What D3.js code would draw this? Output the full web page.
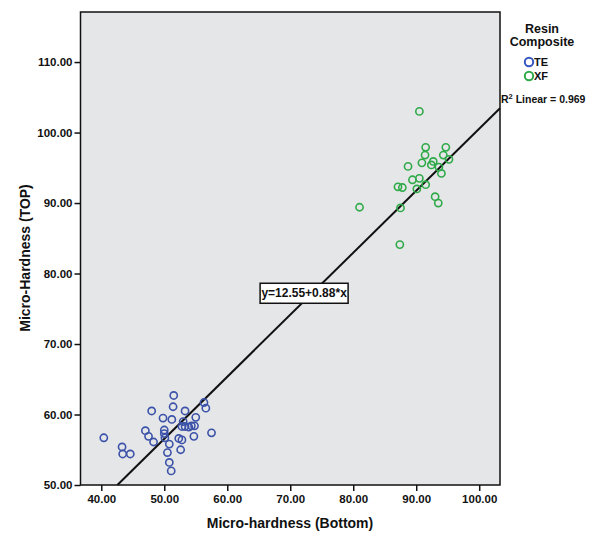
<!DOCTYPE html>
<html>
<head>
<meta charset="utf-8">
<script src="https://cdn.jsdelivr.net/npm/d3@7"></script>
<style>
  body { margin: 0; background: #fff; }
  svg { display: block; }
  text { font-family: "Liberation Sans", Arial, sans-serif; fill: #111; }
</style>
</head>
<body>
<svg id="chart" width="593" height="533"></svg>
<script>
// values
const teBottom = [40.4, 43.3, 43.4, 44.6, 47.0, 47.5, 48.0, 48.3, 49.8, 50.0, 50.0, 50.1, 50.5, 50.8, 50.8, 51.1, 51.2, 51.4, 51.5, 52.3, 52.8, 52.6, 53.0, 52.8, 53.3, 53.3, 53.9, 54.3, 54.8, 55.0, 54.7, 56.3, 56.6, 57.5];
const teTop = [56.7, 55.4, 54.4, 54.4, 57.7, 56.9, 60.5, 56.1, 59.5, 57.8, 57.3, 56.7, 54.6, 55.8, 53.2, 52.0, 59.3, 61.1, 62.7, 56.6, 56.4, 55.0, 59.0, 58.3, 60.5, 58.3, 58.2, 58.4, 58.4, 59.6, 56.9, 61.7, 60.9, 57.4];
const xfBottom = [90.5, 91.5, 94.7, 91.4, 94.3, 95.2, 90.9, 92.7, 92.4, 88.7, 93.6, 94.0, 89.4, 90.5, 87.1, 87.8, 90.1, 91.5, 93.0, 93.5, 87.5, 87.4, 81.0];
const xfTop = [103.0, 97.9, 97.9, 96.8, 96.8, 96.2, 95.7, 95.9, 95.4, 95.2, 95.1, 94.2, 93.3, 93.5, 92.3, 92.2, 92.0, 92.6, 90.9, 90.0, 89.3, 84.1, 89.4];

const groups = ["TE", "XF"];
const groupColors = ["#3b52a8", "#2faa48"];
const xTicks = [40, 50, 60, 70, 80, 90, 100];
const yTicks = [50, 60, 70, 80, 90, 100, 110];
const intercept = 12.55;
const slope = 0.88;
const rSquared = "0.969";

const svg = d3.select("#chart");

const x = d3.scaleLinear().domain([36.7, 103.3]).range([80.5, 500]);
const y = d3.scaleLinear().domain([50, 117.1]).range([485, 12]);

// plot background
svg.append("rect")
  .attr("x", x.range()[0]).attr("y", y.range()[1])
  .attr("width", x.range()[1] - x.range()[0])
  .attr("height", y.range()[0] - y.range()[1])
  .attr("fill", "#e5e6e8");

// axes
const xAxis = svg.append("g")
  .attr("transform", `translate(0,${y.range()[0]})`)
  .call(d3.axisBottom(x).tickValues(xTicks).tickSize(6).tickPadding(4).tickFormat(d3.format(".2f")));
const yAxis = svg.append("g")
  .attr("transform", `translate(${x.range()[0]},0)`)
  .call(d3.axisLeft(y).tickValues(yTicks).tickSize(6).tickPadding(2).tickFormat(d3.format(".2f")));

for (const ax of [xAxis, yAxis]) {
  ax.select(".domain").remove();
  ax.selectAll(".tick line").attr("stroke", "#111").attr("stroke-width", 1.5);
  ax.selectAll(".tick text")
    .attr("fill", "#111")
    .attr("font-size", "11.5px")
    .attr("font-weight", "bold")
    .attr("font-family", "Liberation Sans, Arial, sans-serif");
}

// regression line, clipped to the plot
const lineStart = (y.domain()[0] - intercept) / slope;
const lineEnd = x.domain()[1];
svg.append("line")
  .attr("x1", x(lineStart)).attr("y1", y(intercept + slope * lineStart))
  .attr("x2", x(lineEnd)).attr("y2", y(intercept + slope * lineEnd))
  .attr("stroke", "#111")
  .attr("stroke-width", 2);

// points
const seriesData = [
  teBottom.map((b, i) => ({ b, t: teTop[i], g: 0 })),
  xfBottom.map((b, i) => ({ b, t: xfTop[i], g: 1 }))
];
for (const pts of seriesData) {
  svg.append("g").selectAll("circle").data(pts).join("circle")
    .attr("cx", (d) => x(d.b))
    .attr("cy", (d) => y(d.t))
    .attr("r", 3.6)
    .attr("fill", "none")
    .attr("stroke", (d) => groupColors[d.g])
    .attr("stroke-width", 1.6);
}

// frame
svg.append("rect")
  .attr("x", x.range()[0]).attr("y", y.range()[1])
  .attr("width", x.range()[1] - x.range()[0])
  .attr("height", y.range()[0] - y.range()[1])
  .attr("fill", "none")
  .attr("stroke", "#111")
  .attr("stroke-width", 1.5);

// equation box
const eqX = x(72.2);
const eqY = y(77.2);
svg.append("rect")
  .attr("x", eqX - 44).attr("y", eqY - 10)
  .attr("width", 88).attr("height", 20)
  .attr("fill", "#fff")
  .attr("stroke", "#111")
  .attr("stroke-width", 1.5);
svg.append("text")
  .attr("x", eqX).attr("y", eqY)
  .attr("dy", "0.35em")
  .attr("text-anchor", "middle")
  .attr("font-size", "12px")
  .attr("font-weight", "bold")
  .text(`y=${intercept}+${slope}*x`);

// R squared label
const r2 = svg.append("text")
  .attr("x", 501).attr("y", 103)
  .attr("font-size", "10.5px")
  .attr("font-weight", "bold");
r2.append("tspan").text("R");
r2.append("tspan").attr("font-size", "7.5px").attr("dy", "-4").text("2");
r2.append("tspan").attr("dy", "4").text(` Linear = ${rSquared}`);

// axis titles
svg.append("text")
  .attr("x", 290).attr("y", 528)
  .attr("text-anchor", "middle")
  .attr("font-size", "14px")
  .attr("font-weight", "bold")
  .text("Micro-hardness (Bottom)");
svg.append("text")
  .attr("transform", "translate(30,258) rotate(-90)")
  .attr("text-anchor", "middle")
  .attr("font-size", "14px")
  .attr("font-weight", "bold")
  .text("Micro-Hardness (TOP)");

// legend
svg.append("text")
  .attr("x", 542).attr("y", 33)
  .attr("text-anchor", "middle")
  .attr("font-size", "12.5px")
  .attr("font-weight", "bold")
  .text("Resin");
svg.append("text")
  .attr("x", 542).attr("y", 46)
  .attr("text-anchor", "middle")
  .attr("font-size", "12.5px")
  .attr("font-weight", "bold")
  .text("Composite");

const legend = svg.append("g").selectAll("g").data(groups).join("g")
  .attr("transform", (d, i) => `translate(529,${62 + i * 14})`);
legend.append("circle")
  .attr("r", 4.2)
  .attr("fill", "none")
  .attr("stroke", (d, i) => (i === 0 ? "#3556c0" : groupColors[i]))
  .attr("stroke-width", 2);
legend.append("text")
  .attr("x", 5).attr("dy", "0.35em")
  .attr("font-size", "11px")
  .attr("font-weight", "bold")
  .text((d) => d);
</script>
</body>
</html>
